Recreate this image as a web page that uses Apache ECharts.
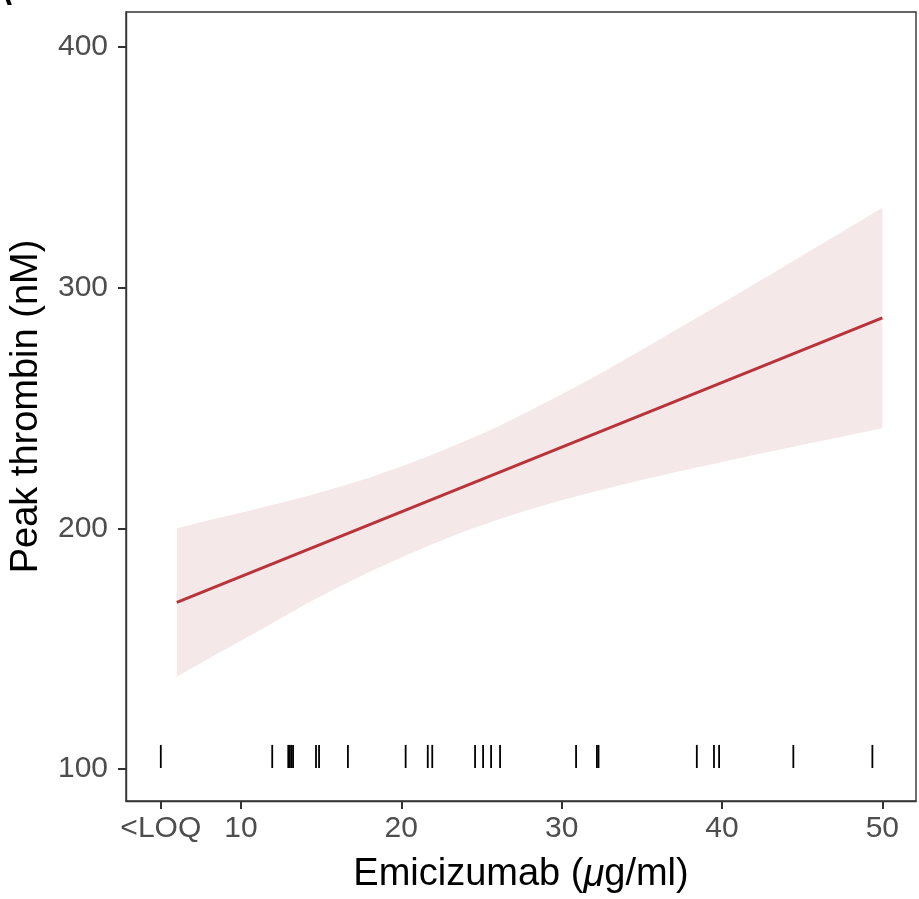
<!DOCTYPE html>
<html>
<head>
<meta charset="utf-8">
<script src="https://cdn.jsdelivr.net/npm/echarts@6/dist/echarts.min.js"></script>
<style>html,body{margin:0;padding:0;background:#fff}#c{width:919px;height:899px}</style>
</head>
<body>
<div id="c"></div>
<script>
// Fitted line (x = emicizumab, y = peak thrombin)
const fitX = [6, 50];
const fitY = [169.2, 287.4];

// Confidence band
const bandX     = [6, 8, 10, 12, 14, 16, 18, 20, 22, 24, 26, 28, 30, 32, 34, 36, 38, 40, 42, 44, 46, 48, 50];
const bandLower = [138.3, 145.9, 153.3, 160.8, 168.3, 175.3, 181.8, 187.9, 193.6, 198.9, 203.6, 207.8,
                   211.7, 215.2, 218.5, 221.6, 224.6, 227.5, 230.4, 233.3, 236.1, 238.8, 241.6];
const bandUpper = [200.0, 203.3, 206.5, 209.8, 213.1, 216.9, 221.0, 225.7, 230.8, 236.3, 242.2, 248.8,
                   255.7, 262.8, 270.3, 278.0, 285.8, 293.5, 301.4, 309.3, 317.3, 325.2, 333.2];

// Rug (observed emicizumab concentrations; 5 = <LOQ)
const rugX = [5, 11.95, 12.95, 13.05, 13.15, 13.25, 14.68, 14.87, 16.67, 20.27, 21.65, 21.93,
              24.6, 25.1, 25.6, 26.16, 30.9, 32.2, 32.3, 38.43, 39.5, 39.82, 44.45, 49.38];

// Ticks
const xTickValues = [5, 10, 20, 30, 40, 50];
const xTickLabels = ['<LOQ', '10', '20', '30', '40', '50'];
const yTickValues = [100, 200, 300, 400];

const chart = echarts.init(document.getElementById('c'), null, {renderer: 'canvas'});
const FONT = 'Liberation Sans';

const option = {
  animation: false,
  backgroundColor: '#fff',
  textStyle: {fontFamily: FONT},
  grid: {left: 126, top: 12, right: 3, bottom: 98, show: true, borderColor: '#333', borderWidth: 1.4, containLabel: false},
  graphic: [{type: 'text', left: -9, top: -18, style: {text: 'A', fontSize: 30, fontWeight: 'bold', fontFamily: FONT, fill: '#000'}}],
  xAxis: {
    type: 'value', min: 2.83, max: 52.1,
    axisLine: {show: true, lineStyle: {color: '#333', width: 1.4}},
    axisTick: {show: true, length: 8, lineStyle: {color: '#333', width: 2}, customValues: xTickValues},
    axisLabel: {
      color: '#4d4d4d', fontSize: 30, margin: 13, fontFamily: FONT,
      customValues: xTickValues,
      formatter: v => { const i = xTickValues.indexOf(v); return i >= 0 ? xTickLabels[i] : ''; }
    },
    splitLine: {show: false},
    name: '{n|Emicizumab (}{i|\u03bc}{n|g/ml)}',
    nameLocation: 'middle', nameGap: 55,
    nameTextStyle: {rich: {n: {fontSize: 38, color: '#000', fontFamily: FONT}, i: {fontSize: 38, color: '#000', fontStyle: 'italic', fontFamily: FONT}}}
  },
  yAxis: {
    type: 'value', min: 86.7, max: 414.5,
    axisLine: {show: true, lineStyle: {color: '#333', width: 1.4}},
    axisTick: {show: true, length: 8, lineStyle: {color: '#333', width: 2}, customValues: yTickValues},
    axisLabel: {color: '#4d4d4d', fontSize: 30, margin: 18, fontFamily: FONT, customValues: yTickValues},
    splitLine: {show: false},
    name: 'Peak thrombin (nM)', nameLocation: 'middle', nameGap: 80,
    nameTextStyle: {fontSize: 38, color: '#000', fontFamily: FONT}
  },
  series: [
    {
      type: 'custom', z: 1, silent: true,
      data: [[bandX[0], bandLower[0]]],
      renderItem: (params, api) => {
        const pts = [];
        for (let i = 0; i < bandX.length; i++) pts.push(api.coord([bandX[i], bandUpper[i]]));
        for (let i = bandX.length - 1; i >= 0; i--) pts.push(api.coord([bandX[i], bandLower[i]]));
        return {type: 'polygon', shape: {points: pts}, style: {fill: '#f5e8e9', stroke: null}};
      }
    },
    {
      type: 'line', symbol: 'none',
      data: fitX.map((x, i) => [x, fitY[i]]),
      lineStyle: {color: '#b8333a', width: 3}, z: 3
    },
    {
      type: 'custom', z: 4,
      data: rugX.map(x => [x]),
      renderItem: (params, api) => {
        const x = api.value(0);
        const p0 = api.coord([x, 100.4]);
        const p1 = api.coord([x, 110]);
        return {type: 'line', shape: {x1: p0[0], y1: p0[1], x2: p1[0], y2: p1[1]}, style: {stroke: '#000', lineWidth: 1.8}};
      }
    }
  ]
};
chart.setOption(option);
</script>
</body>
</html>
